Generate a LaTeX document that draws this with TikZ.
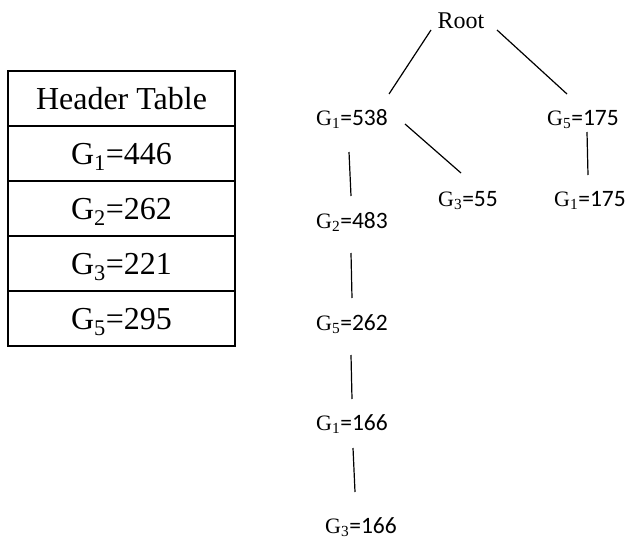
\documentclass[tikz,border=0pt]{standalone}
\usepackage{fontspec}
\setmainfont{Liberation Serif}
\newfontfamily\carl{Carlito}
\newcommand\gl[2]{{\fontsize{22}{26}\selectfont G\textsubscript{#1}}{\carl\fontsize{23.5}{28}\selectfont =#2}}
\newcommand\tg[2]{G\textsubscript{#1}=#2}
\begin{document}
\begin{tikzpicture}[x=1pt,y=-1pt,
  cell/.style={draw,line width=2pt,minimum width=227pt,minimum height=55pt,inner sep=0pt,
    text height=21.5pt,text depth=0pt,font=\fontsize{32}{38}\selectfont},
  tnode/.style={inner sep=0pt,anchor=base},
  edge/.style={line width=1.2pt}]
\useasboundingbox (0,0) rectangle (627,538);
% header table
\node[cell] (h0) at (121.5,98.5) {Header Table};
\node[cell] (h1) at (121.5,153.5) {\tg{1}{446}};
\node[cell] (h2) at (121.5,208.5) {\tg{2}{262}};
\node[cell] (h3) at (121.5,263.5) {\tg{3}{221}};
\node[cell] (h5) at (121.5,318.5) {\tg{5}{295}};
% tree
\node[tnode,font=\fontsize{24}{28}\selectfont] (root) at (461,28) {Root};
\node[tnode] (a1) at (352,125) {\gl{1}{538}};
\node[tnode] (a5) at (583,125) {\gl{5}{175}};
\node[tnode] (b3) at (468,206) {\gl{3}{55}};
\node[tnode] (c1) at (590,206) {\gl{1}{175}};
\node[tnode] (b2) at (352,228) {\gl{2}{483}};
\node[tnode] (d5) at (352,330) {\gl{5}{262}};
\node[tnode] (e1) at (352,430) {\gl{1}{166}};
\node[tnode] (f3) at (361,533) {\gl{3}{166}};
\draw[edge] ([shift={(-30,2)}]root.base) -- ([shift={(37,-31)}]a1.base);
\draw[edge] ([shift={(36,2)}]root.base) -- ([shift={(-16,-31)}]a5.base);
\draw[edge] ([shift={(53,-1)}]a1.base) -- ([shift={(-7,-33)}]b3.base);
\draw[edge] ([shift={(-3,27)}]a1.base) -- ([shift={(-1,-32)}]b2.base);
\draw[edge] ([shift={(4,7)}]a5.base) -- ([shift={(-2,-31)}]c1.base);
\draw[edge] ([shift={(-1,25)}]b2.base) -- ([shift={(0,-32)}]d5.base);
\draw[edge] ([shift={(-1,25)}]d5.base) -- ([shift={(0,-31)}]e1.base);
\draw[edge] ([shift={(1,18)}]e1.base) -- ([shift={(-6,-41)}]f3.base);
\end{tikzpicture}
\end{document}
